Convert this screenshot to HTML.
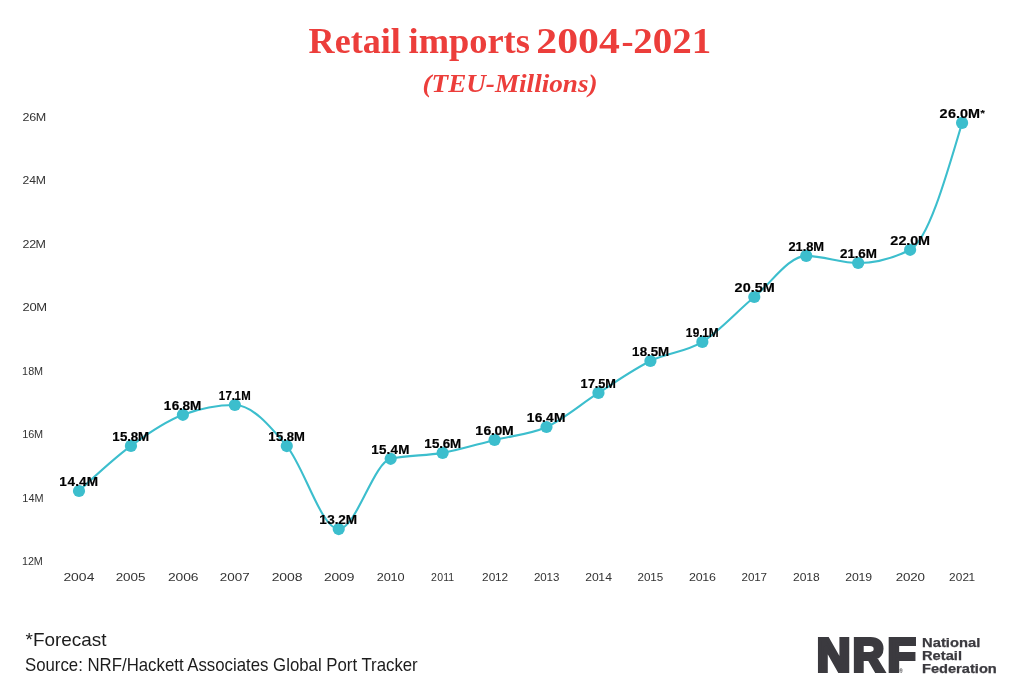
<!DOCTYPE html>
<html lang="en"><head><meta charset="utf-8"><title>Retail imports 2004-2021</title>
<style>
html,body{margin:0;padding:0;background:#fff}
body{width:1012px;height:689px;overflow:hidden}
svg{display:block}
.t1{font-family:"Liberation Serif","DejaVu Serif",serif;font-weight:700;font-size:35px;fill:#ec3e3b}
.t2{font-family:"Liberation Serif","DejaVu Serif",serif;font-weight:700;font-style:italic;font-size:26px;fill:#ec3e3b}
.ax{font-family:"Liberation Sans","DejaVu Sans",sans-serif;font-size:11px;fill:#333}
.dl{font-family:"Liberation Sans","DejaVu Sans",sans-serif;font-weight:700;font-size:12px;fill:#000;stroke:#000;stroke-width:0.18px}
.ft{font-family:"Liberation Sans","DejaVu Sans",sans-serif;font-size:17.7px;fill:#1c1c1c}
.lg{font-family:"Liberation Sans","DejaVu Sans",sans-serif;font-weight:700;font-size:46px;fill:#3b3a3f;stroke:#3b3a3f;stroke-width:3.8px;stroke-linejoin:miter}
.ls{font-family:"Liberation Sans","DejaVu Sans",sans-serif;font-weight:700;font-size:12.2px;fill:#3b3a3f;stroke:#3b3a3f;stroke-width:0.25px}
.rg{font-family:"Liberation Sans","DejaVu Sans",sans-serif;font-size:4.8px;font-weight:700;fill:#3b3a3f}
</style></head><body>
<svg width="1012" height="689" viewBox="0 0 1012 689">
<rect width="1012" height="689" fill="#fff"/>
<path d="M79.00,490.98C96.31,474.79 113.63,458.60 130.94,445.90C148.26,433.20 165.57,421.33 182.89,414.80C200.20,408.27 217.52,405.00 234.84,405.00C252.15,405.00 269.46,425.38 286.78,446.05C304.09,466.72 321.41,529.03 338.73,529.03C356.04,529.03 373.36,462.73 390.67,458.80C407.99,454.87 425.30,456.05 442.62,452.90C459.93,449.75 477.25,444.22 494.56,439.90C511.88,435.58 529.19,434.83 546.50,427.00C563.82,419.17 581.13,403.90 598.45,392.90C615.76,381.90 633.08,369.50 650.39,361.00C667.71,352.50 685.02,352.57 702.34,341.90C719.65,331.23 736.97,311.33 754.28,297.00C771.60,282.67 788.91,255.90 806.23,255.90C823.54,255.90 840.86,263.00 858.17,263.00C875.49,263.00 892.80,258.60 910.12,249.80C927.44,241.00 944.75,181.97 962.07,122.93" fill="none" stroke="#3cbecd" stroke-width="2.1" stroke-linecap="round" stroke-linejoin="round"/>
<circle cx="79.00" cy="490.98" r="6.1" fill="#3cbecd"/>
<circle cx="130.94" cy="445.90" r="6.1" fill="#3cbecd"/>
<circle cx="182.89" cy="414.80" r="6.1" fill="#3cbecd"/>
<circle cx="234.84" cy="405.00" r="6.1" fill="#3cbecd"/>
<circle cx="286.78" cy="446.05" r="6.1" fill="#3cbecd"/>
<circle cx="338.73" cy="529.03" r="6.1" fill="#3cbecd"/>
<circle cx="390.67" cy="458.80" r="6.1" fill="#3cbecd"/>
<circle cx="442.62" cy="452.90" r="6.1" fill="#3cbecd"/>
<circle cx="494.56" cy="439.90" r="6.1" fill="#3cbecd"/>
<circle cx="546.50" cy="427.00" r="6.1" fill="#3cbecd"/>
<circle cx="598.45" cy="392.90" r="6.1" fill="#3cbecd"/>
<circle cx="650.39" cy="361.00" r="6.1" fill="#3cbecd"/>
<circle cx="702.34" cy="341.90" r="6.1" fill="#3cbecd"/>
<circle cx="754.28" cy="297.00" r="6.1" fill="#3cbecd"/>
<circle cx="806.23" cy="255.90" r="6.1" fill="#3cbecd"/>
<circle cx="858.17" cy="263.00" r="6.1" fill="#3cbecd"/>
<circle cx="910.12" cy="249.80" r="6.1" fill="#3cbecd"/>
<circle cx="962.07" cy="122.93" r="6.1" fill="#3cbecd"/>
<text class="t1" y="52.60"><tspan x="308.64" textLength="92.28" lengthAdjust="spacingAndGlyphs">Retail</tspan> <tspan x="408.53" textLength="121.41" lengthAdjust="spacingAndGlyphs">imports</tspan> <tspan x="536.27" textLength="83.51" lengthAdjust="spacingAndGlyphs">2004</tspan><tspan x="621.59" textLength="12.02" lengthAdjust="spacingAndGlyphs">-</tspan><tspan x="633.32" textLength="77.87" lengthAdjust="spacingAndGlyphs">2021</tspan></text>
<text class="t2" x="422.51" y="92.30" textLength="175.03" lengthAdjust="spacingAndGlyphs">(TEU-Millions)</text>
<text class="ax" transform="translate(22.78 564.75) scale(0.982 1)" dx="-0.84 0.09 -0.27">12M</text>
<text class="ax" transform="translate(23.05 501.65) scale(0.992 1)" dx="-0.84 0.31 -0.12">14M</text>
<text class="ax" transform="translate(23.05 438.00) scale(0.990 1)" dx="-0.84 -0.04 -0.33">16M</text>
<text class="ax" transform="translate(22.78 374.80) scale(0.985 1)" dx="-0.84 0.22 -0.14">18M</text>
<text class="ax" transform="translate(23.16 311.05) scale(1.180 1)" dx="-0.55 -0.10 -0.45">20M</text>
<text class="ax" transform="translate(23.17 247.90) scale(1.133 1)" dx="-0.55 -0.24 -0.59">22M</text>
<text class="ax" transform="translate(23.00 183.95) scale(1.111 1)" dx="-0.55 0.15 -0.27">24M</text>
<text class="ax" transform="translate(23.17 121.05) scale(1.141 1)" dx="-0.55 -0.22 -0.49">26M</text>
<text class="ax" transform="translate(64.08 581.10) scale(1.265 1)" dx="-0.55 -0.09 0.03 0.21">2004</text>
<text class="ax" transform="translate(116.47 581.10) scale(1.222 1)" dx="-0.55 -0.14 -0.02 -0.03">2005</text>
<text class="ax" transform="translate(168.65 581.10) scale(1.260 1)" dx="-0.55 -0.14 -0.02 -0.14">2006</text>
<text class="ax" transform="translate(220.51 581.10) scale(1.220 1)" dx="-0.55 -0.03 0.09 -0.04">2007</text>
<text class="ax" transform="translate(272.48 581.10) scale(1.269 1)" dx="-0.55 -0.13 -0.01 -0.06">2008</text>
<text class="ax" transform="translate(324.60 581.10) scale(1.259 1)" dx="-0.55 -0.14 -0.02 -0.10">2009</text>
<text class="ax" transform="translate(377.41 581.10) scale(1.157 1)" dx="-0.55 -0.03 -0.32 -0.02">2010</text>
<text class="ax" transform="translate(431.55 581.10) scale(0.960 1)" dx="-0.55 0.40 0.11 0.01">2011</text>
<text class="ax" transform="translate(482.65 581.10) scale(1.076 1)" dx="-0.55 0.06 -0.23 -0.05">2012</text>
<text class="ax" transform="translate(534.47 581.10) scale(1.051 1)" dx="-0.55 0.06 -0.23 0.08">2013</text>
<text class="ax" transform="translate(585.79 581.10) scale(1.107 1)" dx="-0.55 -0.01 -0.30 0.18">2014</text>
<text class="ax" transform="translate(638.07 581.10) scale(1.060 1)" dx="-0.55 0.04 -0.25 0.04">2015</text>
<text class="ax" transform="translate(689.54 581.10) scale(1.133 1)" dx="-0.55 -0.05 -0.33 -0.16">2016</text>
<text class="ax" transform="translate(742.06 581.10) scale(1.057 1)" dx="-0.55 0.03 -0.26 -0.09">2017</text>
<text class="ax" transform="translate(793.70 581.10) scale(1.098 1)" dx="-0.55 0.05 -0.24 0.01">2018</text>
<text class="ax" transform="translate(845.76 581.10) scale(1.117 1)" dx="-0.55 -0.00 -0.29 -0.07">2019</text>
<text class="ax" transform="translate(896.34 581.10) scale(1.215 1)" dx="-0.55 -0.13 -0.13 -0.13">2020</text>
<text class="ax" transform="translate(949.67 581.10) scale(1.076 1)" dx="-0.55 0.08 0.08 -0.33">2021</text>
<text class="dl" transform="translate(60.21 485.83) scale(1.132 1)" dx="-0.76 0.50 0.13 0.01 0.14">14.4M</text>
<text class="dl" transform="translate(113.08 440.75) scale(1.110 1)" dx="-0.76 0.33 -0.11 -0.17 -0.14">15.8M</text>
<text class="dl" transform="translate(164.71 409.65) scale(1.128 1)" dx="-0.76 0.28 -0.19 -0.15 -0.11">16.8M</text>
<text class="dl" transform="translate(219.37 399.85) scale(0.950 1)" dx="-0.76 0.45 -0.04 -0.28 0.17">17.1M</text>
<text class="dl" transform="translate(269.18 440.90) scale(1.088 1)" dx="-0.76 0.41 -0.04 -0.09 -0.06">15.8M</text>
<text class="dl" transform="translate(320.07 523.88) scale(1.131 1)" dx="-0.76 0.50 -0.14 -0.14 -0.18">13.2M</text>
<text class="dl" transform="translate(372.04 453.65) scale(1.119 1)" dx="-0.76 0.41 -0.03 0.11 0.25">15.4M</text>
<text class="dl" transform="translate(424.99 447.75) scale(1.115 1)" dx="-0.76 0.33 -0.11 -0.23 -0.20">15.6M</text>
<text class="dl" transform="translate(476.23 434.75) scale(1.167 1)" dx="-0.76 0.24 -0.24 -0.29 -0.29">16.0M</text>
<text class="dl" transform="translate(527.54 421.85) scale(1.149 1)" dx="-0.76 0.29 -0.18 0.06 0.20">16.4M</text>
<text class="dl" transform="translate(581.35 387.75) scale(1.064 1)" dx="-0.76 0.27 -0.22 -0.08 -0.02">17.5M</text>
<text class="dl" transform="translate(632.77 355.85) scale(1.110 1)" dx="-0.76 0.39 -0.08 -0.09 -0.04">18.5M</text>
<text class="dl" transform="translate(686.43 336.75) scale(0.987 1)" dx="-0.76 0.45 -0.06 -0.38 0.07">19.1M</text>
<text class="dl" transform="translate(735.09 291.85) scale(1.200 1)" dx="-0.42 0.20 -0.15 -0.04 0.02">20.5M</text>
<text class="dl" transform="translate(788.90 250.75) scale(1.078 1)" dx="-0.42 -0.11 -0.02 -0.08 -0.04">21.8M</text>
<text class="dl" transform="translate(840.54 257.85) scale(1.119 1)" dx="-0.42 -0.13 -0.04 -0.16 -0.13">21.6M</text>
<text class="dl" transform="translate(890.68 244.65) scale(1.200 1)" dx="-0.42 0.26 -0.14 -0.14 -0.14">22.0M</text>
<text class="dl" transform="translate(939.99 117.78) scale(1.200 1)" dx="-0.42 0.37 0.04 -0.01 -0.00 0.46">26.0M<tspan font-size="9.2" dy="-1.9">*</tspan></text>
<text class="ft" x="25.57" y="645.70" textLength="81.02" lengthAdjust="spacingAndGlyphs">*Forecast</text>
<text class="ft" x="24.97" y="670.90" textLength="392.73" lengthAdjust="spacingAndGlyphs">Source: NRF/Hackett Associates Global Port Tracker</text>
<text class="ls" x="922.14" y="646.60" textLength="58.11" lengthAdjust="spacingAndGlyphs">National</text>
<text class="ls" x="921.99" y="659.75" textLength="39.99" lengthAdjust="spacingAndGlyphs">Retail</text>
<text class="ls" x="921.96" y="672.80" textLength="74.84" lengthAdjust="spacingAndGlyphs">Federation</text>
<text class="lg" y="671.05"><tspan x="816.83" textLength="33.73" lengthAdjust="spacingAndGlyphs">N</tspan><tspan x="852.72" textLength="31.40" lengthAdjust="spacingAndGlyphs">R</tspan><tspan x="887.55" textLength="28.27" lengthAdjust="spacingAndGlyphs">F</tspan></text>
<text class="rg" x="899.3" y="672.6">®</text>
</svg>
</body></html>
